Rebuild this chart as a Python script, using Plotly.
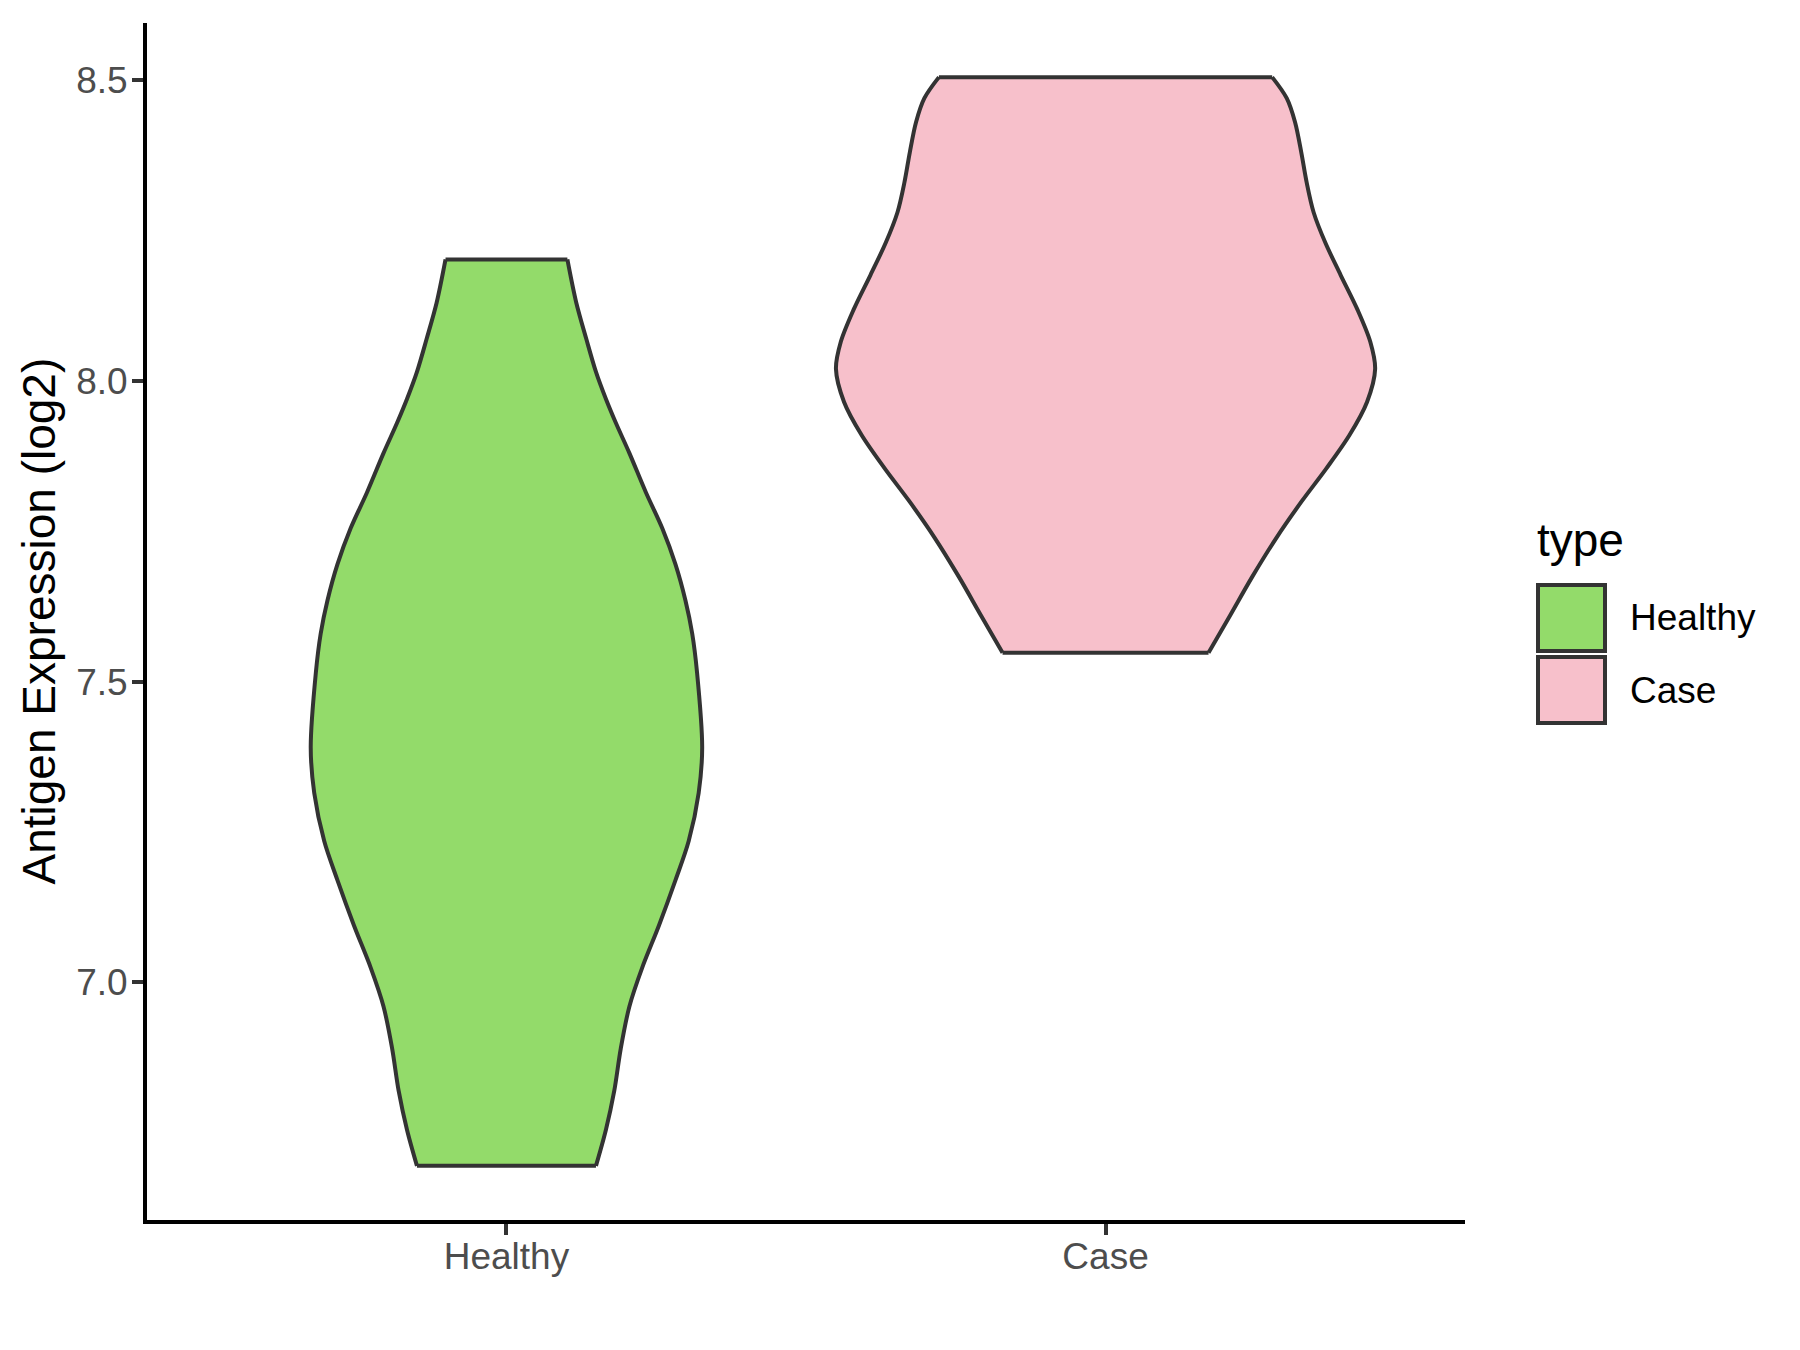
import plotly.graph_objects as go

# ---- data ------------------------------------------------------------------
categories = ["Healthy", "Case"]

# violin outline: expression level (log2) and half-width relative to the
# widest violin (Case at ~8.02 == 1.0), bottom to top
healthy_y = [6.695, 6.755, 6.82, 6.89, 6.96, 7.025, 7.095, 7.17, 7.235, 7.315,
             7.39, 7.515, 7.58, 7.635, 7.695, 7.755, 7.815, 7.88, 7.93,
             7.97, 8.015, 8.07, 8.13, 8.202]
healthy_width = [0.332, 0.369, 0.400, 0.424, 0.456, 0.504, 0.566, 0.627, 0.676, 0.713,
                 0.726, 0.707, 0.689, 0.664, 0.627, 0.578, 0.517, 0.456, 0.406,
                 0.369, 0.332, 0.296, 0.259, 0.226]

case_y = [7.548, 7.61, 7.675, 7.74, 7.80, 7.855, 7.91, 7.965, 8.02, 8.065,
          8.118, 8.176, 8.23, 8.28, 8.33, 8.38, 8.43, 8.47, 8.505]
case_width = [0.382, 0.462, 0.545, 0.635, 0.728, 0.820, 0.905, 0.970, 1.0, 0.982,
              0.935, 0.872, 0.815, 0.772, 0.746, 0.726, 0.703, 0.672, 0.618]

y_ticks = [7.0, 7.5, 8.0, 8.5]

# ---- styling ---------------------------------------------------------------
FILLS = {"Healthy": "#93DB6A", "Case": "#F7C0CB"}
OUTLINE = "#333333"
FONT = "Liberation Sans, Arial, sans-serif"
MAX_HALF = 0.45  # ggplot: widest violin spans 0.9 of a category slot
LW = 4

W, H = 1800, 1350
PAGE_PAD = 8  # body margin of the html page
# plot area in screen pixels
PL, PT, PR, PB = 147, 23, 1465, 1220
PW, PH = PR - PL, PB - PT


def px_x(p):
    return (p - PL) / PW


def px_y(p):
    return 1 - (p - PT) / PH


fig = go.Figure()

series = [(healthy_y, healthy_width), (case_y, case_width)]
edges_x, edges_y = [], []
for i, (name, (ys, ws)) in enumerate(zip(categories, series)):
    c = i + 1
    left = [c - MAX_HALF * w for w in ws]
    right = [c + MAX_HALF * w for w in ws]
    line = dict(color=OUTLINE, width=LW, shape="spline", smoothing=0.9)
    fig.add_trace(go.Scatter(x=left, y=ys, mode="lines", line=line,
                             showlegend=False, hoverinfo="skip"))
    fig.add_trace(go.Scatter(x=right, y=ys, mode="lines", line=line,
                             fill="tonextx", fillcolor=FILLS[name], name=name,
                             showlegend=False, hoverinfo="skip"))
    # flat trimmed ends (ggplot trim=TRUE)
    edges_x += [left[0], right[0], None, left[-1], right[-1], None]
    edges_y += [ys[0], ys[0], None, ys[-1], ys[-1], None]

fig.add_trace(go.Scatter(x=edges_x, y=edges_y, mode="lines",
                         line=dict(color=OUTLINE, width=LW),
                         showlegend=False, hoverinfo="skip"))

axis_common = dict(
    showline=True, linecolor="black", linewidth=4, mirror=False,
    ticks="outside", ticklen=11, tickwidth=3.5, tickcolor=OUTLINE,
    tickfont=dict(family=FONT, size=37, color="#4D4D4D"),
    showgrid=False, zeroline=False,
)

fig.update_xaxes(range=[0.4, 2.6], tickmode="array", tickvals=[1, 2],
                 ticktext=categories, ticklabelstandoff=-10, **axis_common)
fig.update_yaxes(range=[6.605, 8.595], tickmode="array", tickvals=y_ticks,
                 tickformat=".1f", ticklabelstandoff=-3, **axis_common)

# y title
fig.add_annotation(x=px_x(38), y=0.5, xref="paper", yref="paper",
                   text="Antigen Expression (log2)", textangle=-90, showarrow=False,
                   xanchor="center", yanchor="middle",
                   font=dict(family=FONT, size=46, color="black"))

# legend drawn by hand so the keys match the big ggplot boxes
fig.add_annotation(x=px_x(1535), y=px_y(540), xref="paper", yref="paper",
                   text="type", showarrow=False, xanchor="left", yanchor="middle",
                   font=dict(family=FONT, size=46, color="black"))
key_tops = [585, 657]
for name, top in zip(categories, key_tops):
    fig.add_shape(type="rect", xref="paper", yref="paper",
                  x0=px_x(1538), x1=px_x(1605), y0=px_y(top), y1=px_y(top + 66),
                  fillcolor=FILLS[name], line=dict(color=OUTLINE, width=4))
    fig.add_annotation(x=px_x(1628), y=px_y(top + 33), xref="paper", yref="paper",
                       text=name, showarrow=False, xanchor="left", yanchor="middle",
                       font=dict(family=FONT, size=37, color="black"))

fig.update_layout(
    width=W, height=H,
    margin=dict(l=PL - PAGE_PAD, r=W - PR + PAGE_PAD, t=PT - PAGE_PAD,
                b=H - PB + PAGE_PAD, autoexpand=False),
    plot_bgcolor="white", paper_bgcolor="white",
    showlegend=False,
    font=dict(family=FONT),
)

fig.write_html("out.html")
